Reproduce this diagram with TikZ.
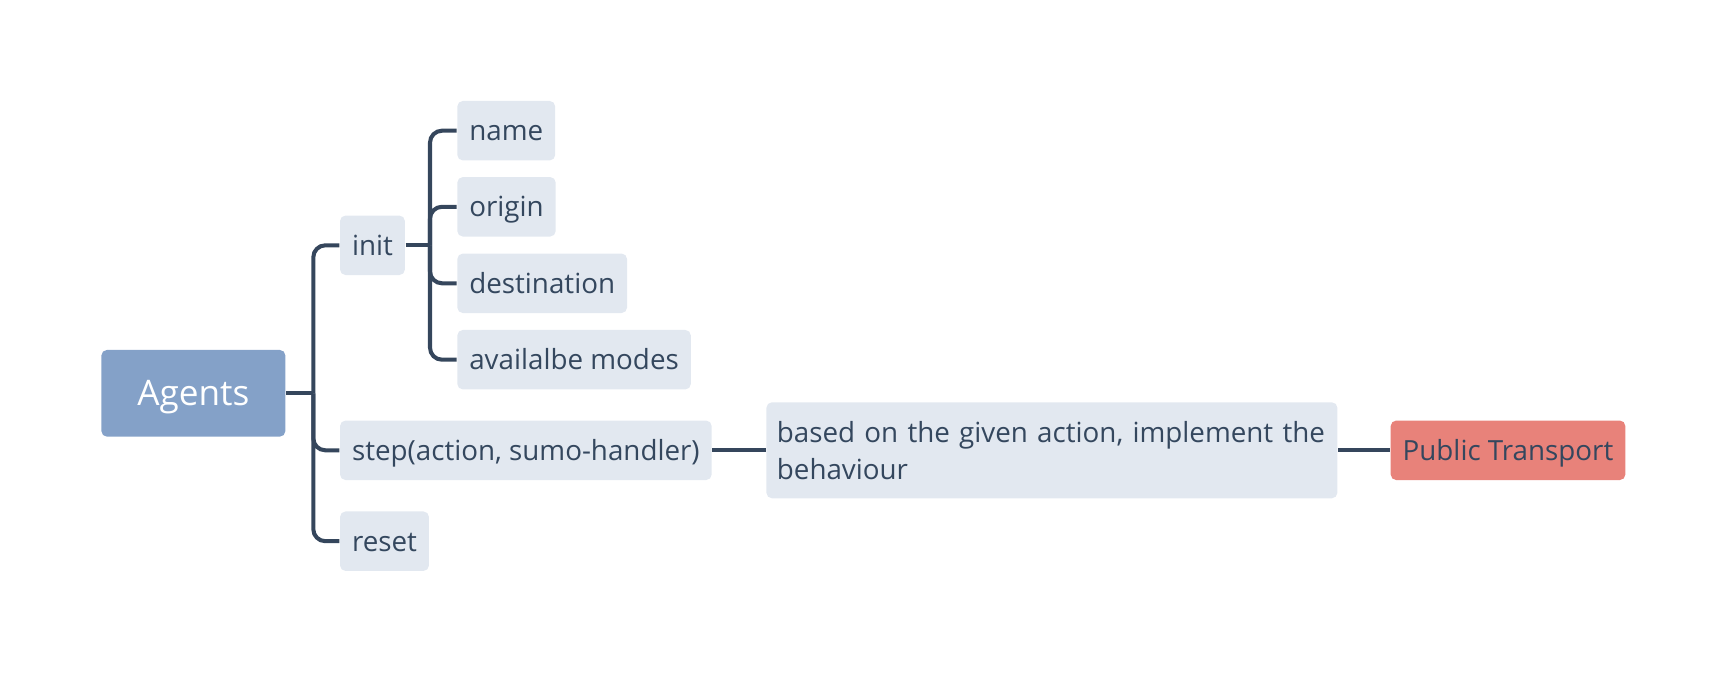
\documentclass[tikz,border=0pt]{standalone}
\usepackage{fontspec}
\setmainfont{Open Sans}
\usetikzlibrary{positioning}
\definecolor{ink}{HTML}{34475E}
\definecolor{edgeink}{HTML}{35465C}
\definecolor{topicfill}{HTML}{E2E8F0}
\definecolor{rootfill}{HTML}{84A1C8}
\definecolor{notefill}{HTML}{E8827A}
\tikzset{
  every node/.style={font=\fontsize{7.9pt}{10.6pt}\selectfont, text=ink},
  link/.style={draw=edgeink, line width=1.15pt, rounded corners=1.2mm},
  box/.style={rectangle, rounded corners=0.55mm, minimum height=5.95mm,
    inner xsep=1.2mm, inner ysep=0.8mm, anchor=west,
    text height=2.4mm, text depth=0.4mm},
  topic/.style={box, fill=topicfill},
  root/.style={box, fill=rootfill, text=white,
    font=\fontsize{10pt}{12pt}\selectfont, minimum height=8.67mm,
    inner xsep=3.6mm, text height=2.8mm, text depth=0.46mm},
  note/.style={box, fill=notefill}
}

\begin{document}
\begin{tikzpicture}[x=1cm,y=1cm]
  \useasboundingbox (0,0) rectangle (17.28,6.72);

  % Root and its three branches.
  \node[root] (agents) at (1.007,2.787) {Agents};
  \node[topic] (init) at (3.393,4.267) {init};
  \node[topic] (step) at (3.393,2.217) {step(action, sumo-handler)};
  \node[topic] (reset) at (3.393,1.308) {reset};

  \coordinate (ja) at (3.133,2.787);
  \draw[link] (agents.east) -- (ja);
  \draw[link] (ja) |- (init.west);
  \draw[link] (ja) |- (step.west);
  \draw[link] (ja) |- (reset.west);

  % Fields set up by init.
  \node[topic] (name) at (4.566,5.413) {name};
  \node[topic] (origin) at (4.566,4.652) {origin};
  \node[topic] (destination) at (4.566,3.887) {destination};
  \node[topic] (modes) at (4.566,3.123) {availalbe modes};

  \coordinate (ji) at (4.300,4.267);
  \draw[link] (init.east) -- (ji);
  \draw[link] (ji) |- (name.west);
  \draw[link] (ji) |- (origin.west);
  \draw[link] (ji) |- (destination.west);
  \draw[link] (ji) |- (modes.west);

  % What step does.
  \node[topic, text width=5.5cm, inner xsep=1.05mm, align=left,
    text height={}, text depth={}, minimum height=9.6mm]
    (behaviour) at (7.657,2.217)
    {based on the given action, implement the\\behaviour};
  \node[note] (transport) at (13.900,2.217) {Public Transport};
  \draw[link] (step.east) -- (behaviour.west);
  \draw[link] (behaviour.east) -- (transport.west);
\end{tikzpicture}
\end{document}
